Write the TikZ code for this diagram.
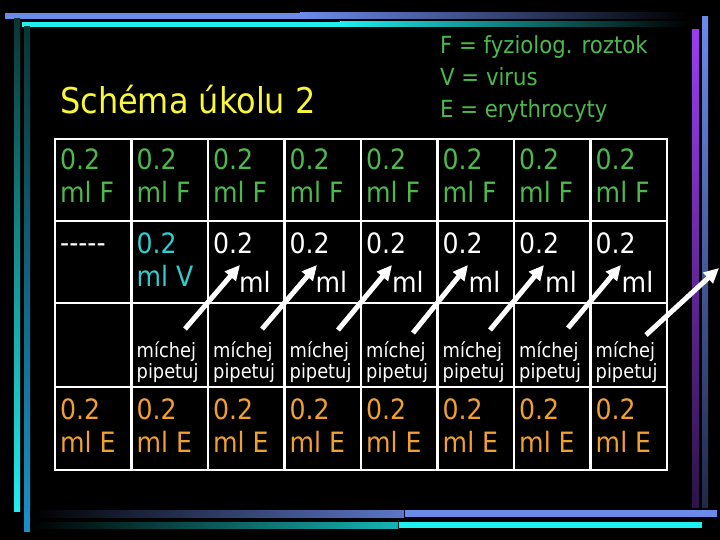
\documentclass[tikz,border=0pt]{standalone}
\usepackage{fontspec}
\setmainfont{DejaVu Sans}[FakeStretch=0.9]
\usetikzlibrary{arrows.meta}
\definecolor{barblue}{HTML}{6B8BEB}
\definecolor{barcyan}{HTML}{1EEFEF}
\definecolor{barpurple}{HTML}{9B3DEF}
\definecolor{leftblue}{HTML}{1A90C8}
\definecolor{darkteal}{HTML}{0A3535}
\definecolor{tgreen}{HTML}{4DB84D}
\definecolor{tcyan}{HTML}{33CCCC}
\definecolor{torange}{HTML}{F0A030}
\definecolor{tyellow}{HTML}{F8F83A}
\tikzset{
  cell/.style={anchor=base west, inner sep=0pt, font=\fontsize{28}{33}\selectfont},
  small/.style={anchor=base west, inner sep=0pt, text=white, font=\fontsize{19.8}{22}\selectfont},
  legend/.style={anchor=base west, inner sep=0pt, text=tgreen, font=\fontsize{23.6}{28}\selectfont},
  tableline/.style={draw=white, line width=2.8pt},
  bigarrow/.style={draw=white, line width=5pt, -{Triangle[length=15pt,width=14pt]}}
}
\begin{document}
\begin{tikzpicture}[x=1pt,y=-1pt]
\useasboundingbox (0,0) rectangle (720,540);
\fill[black] (0,0) rectangle (720,540);
% frame bars
\fill[barblue] (5,13) rectangle (300,19);
\shade[left color=barblue, right color=black] (300,13) rectangle (688,19);
\fill[barcyan] (22,22) rectangle (340,27);
\shade[left color=barcyan, right color=black] (340,22) rectangle (688,27);
\shade[top color=darkteal, bottom color=barcyan] (14,19) rectangle (20,511);
\shade[top color=darkteal, bottom color=leftblue] (24,27) rectangle (30,531);
\shade[top color=barpurple, bottom color=black!70!barpurple] (692,30) rectangle (699,507);
\shade[top color=barblue, bottom color=black!70!barblue] (702,17) rectangle (708,507);
\shade[left color=black, right color=barblue!85!black] (30,510) rectangle (404,517);
\fill[barblue] (405,510) rectangle (717,517);
\shade[left color=black, right color=barcyan!75!black] (30,522) rectangle (398,528);
\fill[barcyan] (399,522) rectangle (702,528);
% title and legend
\node[anchor=base west, inner sep=0pt, text=tyellow, font=\fontsize{35.5}{40}\selectfont] (title) at (60,114) {Schéma úkolu 2};
\node[legend] (legF) at (440,54) {F = fyziolog. roztok};
\node[legend] (legV) at (440,86) {V = virus};
\node[legend] (legE) at (440,118) {E = erythrocyty};
% table grid
\draw[tableline] (55,139) rectangle (667,470);
\foreach \i in {1,...,7} \draw[tableline] ({55+76.5*\i},139) -- ({55+76.5*\i},470);
\foreach \y in {221,303,387} \draw[tableline] (55,\y) -- (667,\y);
% cell texts
\foreach \i in {1,...,8} {
  \pgfmathsetmacro\L{55+76.5*(\i-1)}
  \node[cell, text=tgreen] (fa\i) at (\L+5,170) {0.2};
  \node[cell, text=tgreen] (fb\i) at (\L+5,203) {ml F};
  \node[cell, text=torange] (ea\i) at (\L+5,419) {0.2};
  \node[cell, text=torange] (eb\i) at (\L+5,452) {ml E};
}
\node[cell, text=white] (dash) at (60,252) {-{}-{}-{}-{}-};
\node[cell, text=tcyan] (va) at (136.5,253) {0.2};
\node[cell, text=tcyan] (vb) at (136.5,286) {ml V};
\foreach \i in {3,...,8} {
  \pgfmathsetmacro\L{55+76.5*(\i-1)}
  \node[cell, text=white] (wa\i) at (\L+5,253) {0.2};
  \node[cell, text=white] (wb\i) at (\L+31,292) {ml};
}
\foreach \i in {2,...,8} {
  \pgfmathsetmacro\L{55+76.5*(\i-1)}
  \node[small] (ma\i) at (\L+5,357) {míchej};
  \node[small] (mb\i) at (\L+5,378) {pipetuj};
}
% arrows
\coordinate (t1) at (185,329); \coordinate (h1) at (240,265);
\coordinate (t2) at (262,329); \coordinate (h2) at (317,265);
\coordinate (t3) at (338,330); \coordinate (h3) at (392,265);
\coordinate (t4) at (413,333); \coordinate (h4) at (468,265);
\coordinate (t5) at (490,330); \coordinate (h5) at (544,265);
\coordinate (t6) at (568,328); \coordinate (h6) at (621,265);
\coordinate (t7) at (646,335); \coordinate (h7) at (719,268);
\foreach \k in {1,...,7} \draw[bigarrow] (t\k) -- (h\k);
\end{tikzpicture}
\end{document}
